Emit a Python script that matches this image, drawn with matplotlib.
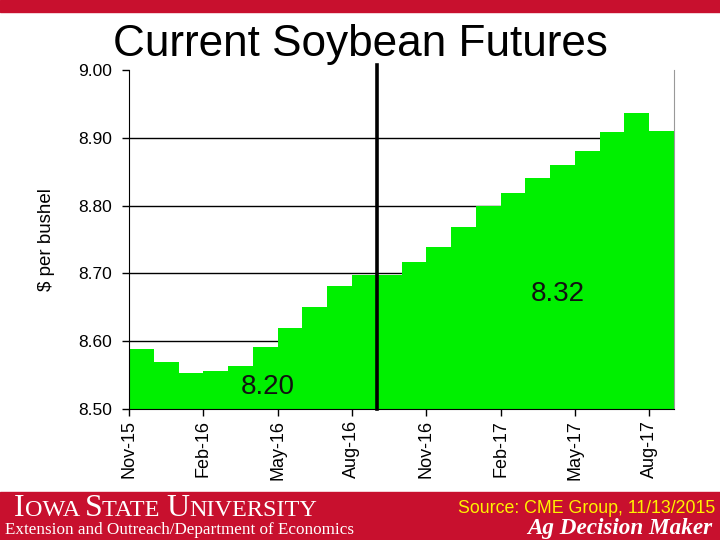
import matplotlib
matplotlib.use("Agg")
import matplotlib.pyplot as plt
from matplotlib.patches import Rectangle

plt.rcParams['font.family'] = ['Liberation Sans', 'DejaVu Sans']

months = ["Nov-15", "Dec-15", "Jan-16", "Feb-16", "Mar-16", "Apr-16", "May-16",
          "Jun-16", "Jul-16", "Aug-16", "Sep-16", "Oct-16", "Nov-16", "Dec-16",
          "Jan-17", "Feb-17", "Mar-17", "Apr-17", "May-17", "Jun-17", "Jul-17",
          "Aug-17"]
prices = [8.588, 8.570, 8.553, 8.556, 8.563, 8.591, 8.620, 8.651, 8.681, 8.697,
          8.697, 8.717, 8.739, 8.769, 8.799, 8.819, 8.840, 8.860, 8.880, 8.908,
          8.937, 8.910]
tick_idx = [0, 3, 6, 9, 12, 15, 18, 21]
yticks = [8.50, 8.60, 8.70, 8.80, 8.90, 9.00]
annotations = [("8.20", 5.6, 8.532), ("8.32", 17.3, 8.669)]
split_x = 10

W, H = 720, 540
fig = plt.figure(figsize=(7.2, 5.4), dpi=100)
fig.patch.set_facecolor("white")

ax = fig.add_axes([129 / W, 1 - 409 / H, (674 - 129) / W, (409 - 70) / H])
x = list(range(len(prices)))
ax.bar(x, [p - 8.5 for p in prices], bottom=8.5, width=1.0, align="edge",
       color="#00F000", edgecolor="none", zorder=2)
ax.set_xlim(0, len(prices))
ax.set_ylim(8.5, 9.0)
ax.set_yticks(yticks)
ax.set_yticklabels([f"{v:.2f}" for v in yticks], fontsize=12.5)
for v in yticks[1:-1]:
    ax.axhline(v, color="black", lw=1.0, zorder=1)
ax.set_xticks(tick_idx)
ax.set_xticklabels([months[i] for i in tick_idx], rotation=90, fontsize=13)
ax.tick_params(axis="y", direction="out", length=5, width=1, pad=7)
ax.tick_params(axis="x", direction="out", length=5, width=1, pad=3)
ax.spines["top"].set_visible(False)
ax.spines["right"].set_color("#999999")
ax.spines["left"].set_color("black")
ax.spines["bottom"].set_color("black")
ax.set_ylabel("$ per bushel", fontsize=13.5, labelpad=17)

ax.plot([split_x, split_x], [8.5, 9.007], color="black", lw=2.6,
        clip_on=False, zorder=3)
for txt, xx, yy in annotations:
    ax.text(xx, yy, txt, fontsize=20, ha="center", va="center", color="#111111",
            zorder=4)

fig.text(0.5, 1 - 56 / H, "Current Soybean Futures", fontsize=31.8,
         ha="center", va="baseline", color="black")

red = "#C8102E"
fig.patches.append(Rectangle((0, 0), 1, 48 / H, transform=fig.transFigure,
                             color=red, zorder=0))
fig.patches.append(Rectangle((0, 1 - 12 / H), 1, 12 / H,
                             transform=fig.transFigure, color=red, zorder=0))

# small caps "IOWA STATE UNIVERSITY"
fig.canvas.draw()
renderer = fig.canvas.get_renderer()
parts = [("I", 23), ("OWA ", 17.5), ("S", 23), ("TATE ", 17.5), ("U", 23),
         ("NIVERSITY", 17.5)]
xpos = 14
for s, fs in parts:
    t = fig.text(xpos / W, 1 - 516 / H, s, fontsize=fs, family="Liberation Serif",
                 color="white", ha="left", va="baseline")
    bb = t.get_window_extent(renderer=renderer)
    xpos += bb.width
fig.text(5 / W, 1 - 534 / H, "Extension and Outreach/Department of Economics",
         fontsize=12.3, family="Liberation Serif", color="white", ha="left",
         va="baseline")
fig.text(715 / W, 1 - 513 / H, "Source: CME Group, 11/13/2015", fontsize=12.8,
         color="#FFF200", ha="right", va="baseline")
fig.text(712 / W, 1 - 534 / H, "Ag Decision Maker", fontsize=16.7,
         family="Liberation Serif", weight="bold", style="italic",
         color="white", ha="right", va="baseline")

fig.savefig("out.png", dpi=100)
